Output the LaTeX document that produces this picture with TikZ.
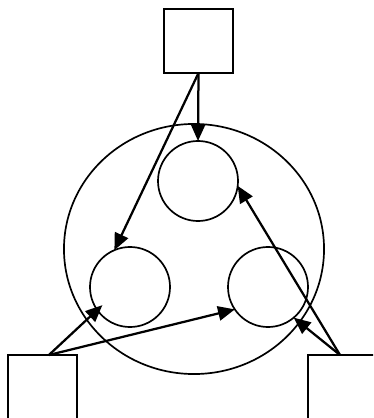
\documentclass[tikz,border=0pt]{standalone}
\usetikzlibrary{arrows.meta,shapes.geometric}

\begin{document}
\begin{tikzpicture}[
    x=0.025cm, y=-0.025cm,
    sqbox/.style={draw, line width=1.4pt, inner sep=0pt, outer sep=0pt},
    cell/.style={draw, circle, line width=1.2pt, inner sep=0pt, outer sep=0pt, minimum size=2cm},
    rim/.style={draw, ellipse, line width=1.2pt, inner sep=0pt, outer sep=0pt, minimum width=6.5cm, minimum height=6.25cm},
    arr/.style={-{Triangle[length=0.42cm, width=0.36cm]}, line width=1.6pt},
]
\useasboundingbox (0,0) rectangle (373,418);
\clip (0,0) rectangle (373,418);
% outer ring and the three cells
\node[rim] (ring) at (194,249) {};
\node[cell] (ctop) at (198,181) {};
\node[cell] (cleft) at (130,287) {};
\node[cell] (cright) at (268,287) {};
% source boxes
\node[sqbox, minimum width=1.725cm, minimum height=1.6cm] (stop) at (198.5,41) {};
\node[sqbox, minimum width=1.725cm, minimum height=2.5cm] (sleft) at (42.5,405) {};
\node[sqbox, minimum width=1.8cm, minimum height=2.5cm] (sright) at (344,405) {};
% connectors
\draw[arr] (stop.south) -- (ctop.north);
\draw[arr] (stop.south) -- (cleft.113);
\draw[arr, shorten >=-5pt] ([xshift=0.16cm]sleft.north) -- (cleft.215);
\draw[arr] ([xshift=0.16cm]sleft.north) -- (cright.214);
\draw[arr] ([xshift=-0.1cm]sright.north) -- (ctop.353);
\draw[arr] ([xshift=-0.1cm]sright.north) -- (cright.310);
\end{tikzpicture}
\end{document}
